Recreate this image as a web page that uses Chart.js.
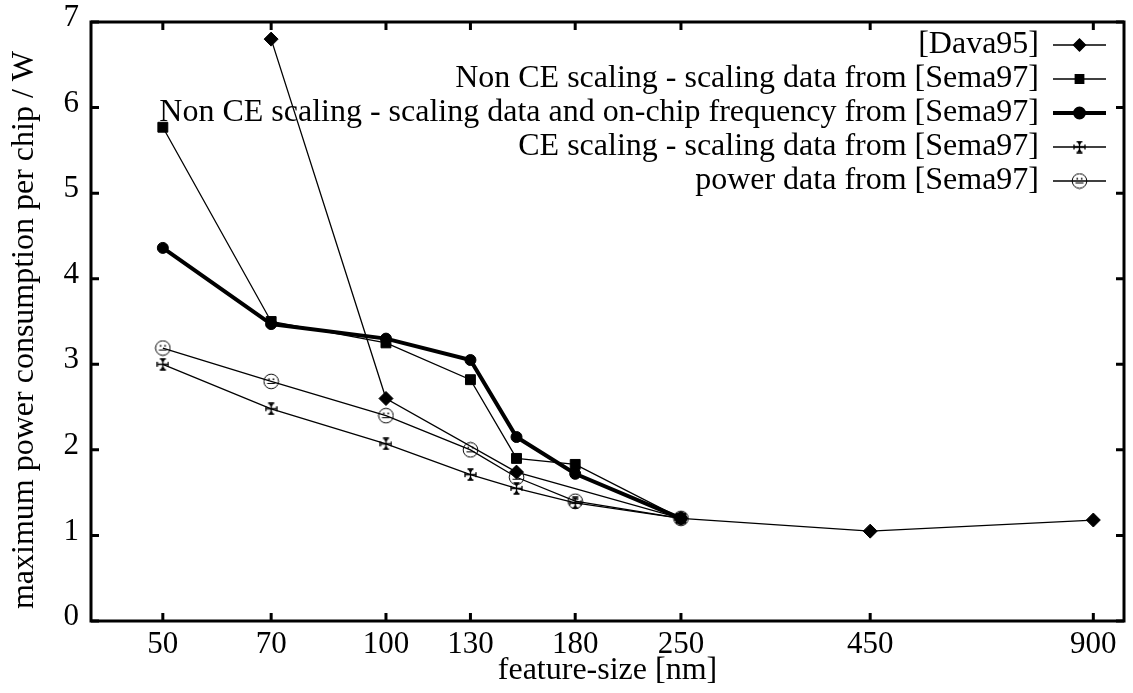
<!DOCTYPE html>
<html>
<head>
<meta charset="utf-8">
<script src="https://cdn.jsdelivr.net/npm/chart.js@4"></script>
<style>
  body { margin: 0; background: #fff; }
  canvas { display: block; }
</style>
</head>
<body>
<canvas id="powerChart" width="1133" height="693"></canvas>
<script>
// données
const featureSizes = [50, 70, 100, 130, 150, 180, 250, 450, 900];
const xTicks = [50, 70, 100, 130, 180, 250, 450, 900];
const yTicks = [0, 1, 2, 3, 4, 5, 6, 7];

const dava95 = [null, 6.8, 2.6, null, 1.74, null, 1.2, 1.05, 1.18];
const nonCE = [5.77, 3.5, 3.25, 2.82, 1.9, 1.83, 1.2, null, null];
const nonCEFreq = [4.36, 3.47, 3.3, 3.05, 2.15, 1.72, 1.2, null, null];
const ceScaling = [3.0, 2.48, 2.07, 1.71, 1.55, 1.38, 1.2, null, null];
const powerData = [3.19, 2.8, 2.4, 2.0, 1.68, 1.4, 1.2, null, null];

const seriesLabels = [
  "[Dava95]",
  "Non CE scaling - scaling data from [Sema97]",
  "Non CE scaling - scaling data and on-chip frequency from [Sema97]",
  "CE scaling - scaling data from [Sema97]",
  "power data from [Sema97]",
];
const yTitle = "maximum power consumption per chip / W";
const xTitle = "feature-size [nm]";

const FONT = "'Liberation Serif', 'Times New Roman', serif";

function toPoints(arr) {
  return featureSizes
    .map((x, i) => ({ x: x, y: arr[i] }))
    .filter((p) => p.y !== null);
}

// symboles particuliers
function makeCross() {
  const c = document.createElement("canvas");
  c.width = 13; c.height = 13;
  const g = c.getContext("2d");
  g.strokeStyle = "#000";
  g.lineWidth = 1.3;
  g.beginPath();
  g.moveTo(6.5, 1); g.lineTo(6.5, 12);
  g.moveTo(1, 6.5); g.lineTo(12, 6.5);
  g.moveTo(3.5, 1); g.lineTo(9.5, 1);
  g.moveTo(3.5, 12); g.lineTo(9.5, 12);
  g.moveTo(1, 4); g.lineTo(1, 9);
  g.moveTo(12, 4); g.lineTo(12, 9);
  g.stroke();
  g.fillStyle = "#000";
  g.beginPath();
  g.moveTo(4, 1); g.lineTo(9, 1); g.lineTo(6.5, 5); g.closePath();
  g.moveTo(4, 12); g.lineTo(9, 12); g.lineTo(6.5, 8); g.closePath();
  g.fill();
  return c;
}

function makeSmiley() {
  const c = document.createElement("canvas");
  c.width = 17; c.height = 17;
  const g = c.getContext("2d");
  g.strokeStyle = "#000";
  g.lineWidth = 1;
  g.beginPath();
  g.arc(8.5, 8.5, 7.3, 0, Math.PI * 2);
  g.stroke();
  g.fillStyle = "#000";
  g.fillRect(5.5, 5.5, 1.6, 1.6);
  g.fillRect(9.9, 5.5, 1.6, 1.6);
  g.beginPath();
  g.moveTo(4.5, 10.5); g.lineTo(12.5, 10.5);
  g.stroke();
  return c;
}

const crossImg = makeCross();
const smileyImg = makeSmiley();

function serie(label, arr, style, radius, width) {
  return {
    label: label,
    data: toPoints(arr),
    borderColor: "#000",
    backgroundColor: "#000",
    borderWidth: width,
    pointStyle: style,
    pointRadius: radius,
    pointBorderWidth: 1,
    pointBackgroundColor: "#000",
    pointBorderColor: "#000",
    tension: 0,
  };
}

const datasets = [
  serie(seriesLabels[0], dava95, "rectRot", 7, 1.3),
  serie(seriesLabels[1], nonCE, "rect", 7, 1.3),
  serie(seriesLabels[2], nonCEFreq, "circle", 5.5, 4),
  serie(seriesLabels[3], ceScaling, crossImg, 6, 1.3),
  serie(seriesLabels[4], powerData, smileyImg, 8, 1.3),
];

// cadre + graduations vers l'intérieur + titre vertical
const framePlugin = {
  id: "frame",
  afterDatasetsDraw(chart) {
    const { ctx, chartArea: a, scales } = chart;
    ctx.save();
    ctx.strokeStyle = "#000";
    ctx.lineWidth = 3;
    ctx.strokeRect(a.left, a.top, a.right - a.left, a.bottom - a.top);
    ctx.beginPath();
    xTicks.forEach((v) => {
      const x = scales.x.getPixelForValue(v);
      ctx.moveTo(x, a.bottom); ctx.lineTo(x, a.bottom - 8);
      ctx.moveTo(x, a.top); ctx.lineTo(x, a.top + 8);
    });
    yTicks.forEach((v) => {
      const y = scales.y.getPixelForValue(v);
      ctx.moveTo(a.left, y); ctx.lineTo(a.left + 8, y);
      ctx.moveTo(a.right, y); ctx.lineTo(a.right - 8, y);
    });
    ctx.stroke();

    ctx.translate(25, 330);
    ctx.rotate(-Math.PI / 2);
    ctx.font = "32px " + FONT;
    ctx.fillStyle = "#000";
    ctx.textAlign = "center";
    ctx.textBaseline = "middle";
    ctx.fillText(yTitle, 0, 0);
    ctx.restore();
  },
};

// légende à la gnuplot : texte aligné à droite, échantillon à droite
const legendPlugin = {
  id: "gnuLegend",
  afterDraw(chart) {
    const { ctx } = chart;
    const textRight = 1039;
    const x0 = 1053, x1 = 1106;
    ctx.save();
    ctx.font = "32px " + FONT;
    ctx.textAlign = "right";
    ctx.textBaseline = "middle";
    chart.data.datasets.forEach((ds, i) => {
      const y = 45 + i * 34;
      ctx.fillStyle = "#000";
      ctx.fillText(ds.label, textRight, y);
      ctx.strokeStyle = "#000";
      ctx.lineWidth = ds.borderWidth;
      ctx.beginPath();
      ctx.moveTo(x0, y); ctx.lineTo(x1, y);
      ctx.stroke();
      const cx = (x0 + x1) / 2;
      if (ds.pointStyle instanceof HTMLCanvasElement) {
        const im = ds.pointStyle;
        ctx.drawImage(im, cx - im.width / 2, y - im.height / 2);
      } else {
        Chart.helpers.drawPoint(ctx, {
          pointStyle: ds.pointStyle,
          radius: ds.pointRadius - 1,
          borderWidth: 1,
          rotation: 0,
        }, cx, y);
        ctx.fill();
      }
    });
    ctx.restore();
  },
};

new Chart(document.getElementById("powerChart"), {
  type: "line",
  data: { datasets: datasets },
  plugins: [framePlugin, legendPlugin],
  options: {
    responsive: false,
    animation: false,
    events: [],
    layout: { padding: { top: 22, right: 0, left: 0, bottom: 0 } },
    plugins: { legend: { display: false }, tooltip: { enabled: false } },
    scales: {
      x: {
        type: "logarithmic",
        min: 40,
        max: 990,
        afterBuildTicks(scale) {
          scale.ticks = xTicks.map((v) => ({ value: v }));
        },
        afterFit(scale) {
          scale.height = 72;
          scale.paddingLeft = 0;
          scale.paddingRight = 0;
        },
        ticks: {
          autoSkip: false,
          maxRotation: 0,
          padding: 5,
          color: "#000",
          font: { family: FONT, size: 31 },
          callback: (v) => String(v),
        },
        grid: { display: false, drawTicks: false },
        border: { display: false },
        title: {
          display: true,
          text: xTitle,
          color: "#000",
          font: { family: FONT, size: 32 },
          padding: { top: 0, bottom: 3 },
        },
      },
      y: {
        min: 0,
        max: 7,
        afterBuildTicks(scale) {
          scale.ticks = yTicks.map((v) => ({ value: v }));
        },
        afterFit(scale) {
          scale.width = 91;
          scale.paddingTop = 0;
          scale.paddingBottom = 0;
        },
        ticks: {
          padding: 12,
          labelOffset: -4,
          color: "#000",
          font: { family: FONT, size: 31 },
        },
        grid: { display: false, drawTicks: false },
        border: { display: false },
      },
    },
  },
});
</script>
</body>
</html>
